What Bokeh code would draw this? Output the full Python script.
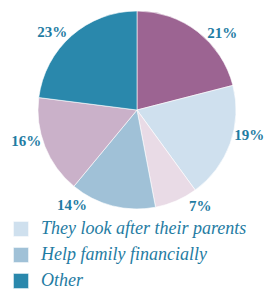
import math
from bokeh.plotting import figure
from bokeh.models import ColumnDataSource, Range1d, Legend, LegendItem
from bokeh.embed import file_html
from bokeh.resources import INLINE

# ---- data ----
categories = ["Reason A", "They look after their parents", "Reason C",
              "Help family financially", "Reason E", "Other"]
shares = [21, 19, 7, 14, 16, 23]          # percent, clockwise from 12 o'clock
labels = ["21%", "19%", "7%", "14%", "16%", "23%"]
colors = ["#9c6492", "#cfe0ee", "#e9dbe6", "#a0c1d7", "#cab1c9", "#2a88ac"]
legend_idx = [1, 3, 5]

# ---- layout / style ----
W, H = 264, 290
CX, CY = 136.5, H - 109.5      # pie centre (plot units = px, y up)
R = 99
LABEL_R = 115
label_angle_shift = [10, -7, -10, 20, 6, -6]   # label nudges (deg) off mid-angle
TEXT = "#1f7ca3"

total = float(sum(shares))
starts, ends, lx, ly = [], [], [], []
acc = 0.0
for i, s in enumerate(shares):
    a1 = acc / total * 360.0
    a2 = (acc + s) / total * 360.0
    acc += s
    starts.append(math.radians(90 - a2))
    ends.append(math.radians(90 - a1))
    mid = math.radians((a1 + a2) / 2 + label_angle_shift[i])
    lx.append(CX + LABEL_R * math.sin(mid))
    ly.append(CY + LABEL_R * math.cos(mid))

src = ColumnDataSource(dict(start=starts, end=ends, color=colors, cat=categories,
                            x=[CX] * len(shares), y=[CY] * len(shares)))
lsrc = ColumnDataSource(dict(x=lx, y=ly, text=labels))

p = figure(width=W, height=H, output_backend="svg", toolbar_location=None,
           x_range=Range1d(0, W), y_range=Range1d(0, H), min_border=0,
           background_fill_color="white", border_fill_color="white")
p.axis.visible = False
p.grid.visible = False
p.outline_line_color = None

r = p.wedge(x="x", y="y", radius=R, radius_units="screen",
            start_angle="start", end_angle="end", fill_color="color",
            line_color="white", line_width=0.6, source=src)

p.text(x="x", y="y", text="text", source=lsrc, text_align="center",
       text_baseline="middle", text_font="Liberation Serif",
       text_font_style="bold", text_font_size="15px", text_color=TEXT)

items = [LegendItem(label=categories[i], renderers=[r], index=i) for i in legend_idx]
legend = Legend(items=items, location=(11, -1), orientation="vertical",
                glyph_width=19, glyph_height=19, label_height=19,
                spacing=5, padding=0, margin=0, label_standoff=11,
                label_text_font="Liberation Serif", label_text_font_style="italic",
                label_text_font_size="18px", label_text_color=TEXT,
                border_line_color=None, background_fill_alpha=0)
p.add_layout(legend)

open("out.html", "w").write(file_html(p, INLINE))
